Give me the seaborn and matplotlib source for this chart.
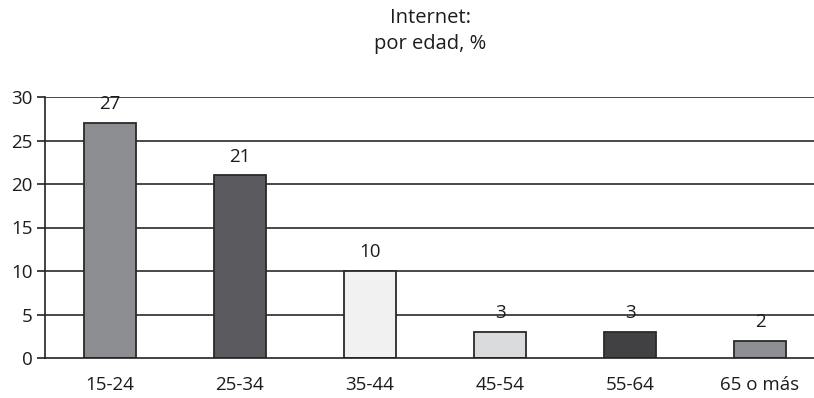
import matplotlib
matplotlib.use("Agg")
import matplotlib.pyplot as plt
import seaborn as sns
import pandas as pd
import numpy as np

categories = ["15-24", "25-34", "35-44", "45-54", "55-64", "65 o más"]
values = [27, 21, 10, 3, 3, 2]
colors = ["#8c8d91", "#5b5b5f", "#f1f1f2", "#dadbdd", "#414143", "#8e8f93"]
yticks = [0, 5, 10, 15, 20, 25, 30]
title = "Internet:\npor edad, %"

sns.set_theme(style="white")
plt.rcParams["font.family"] = ["Open Sans", "DejaVu Sans"]

W, H = 814, 398
fig = plt.figure(figsize=(W / 100, H / 100), dpi=100)
left, right, top, bottom = 45, 825, 97, 358
ax = fig.add_axes([left / W, 1 - bottom / H, (right - left) / W, (bottom - top) / H])

df = pd.DataFrame({"cat": categories, "val": values})
sns.barplot(data=df, x="cat", y="val", hue="cat", palette=colors, legend=False,
            width=0.4, edgecolor="#2a2a2a", linewidth=1.3, ax=ax, zorder=3, saturation=1)

txt = "#1c1c1c"
ax.set_ylim(0, 30)
ax.set_xlim(-0.5, len(categories) - 0.5)
ax.set_yticks(yticks)
ax.set_yticklabels([str(t) for t in yticks], fontsize=13.5, color=txt)
ax.set_xticks(range(len(categories)))
ax.set_xticklabels(categories, fontsize=13.5, color=txt)
ax.set_xticks(np.arange(-0.5, len(categories) + 0.5, 1), minor=True)
ax.tick_params(axis="x", which="major", length=0, pad=13)
ax.tick_params(axis="x", which="minor", length=6, width=1.2, color="#222222", direction="out")
ax.tick_params(axis="y", length=6, width=1.2, color="#222222", direction="out", pad=3, left=True)
ax.set_xlabel("")
ax.set_ylabel("")

for t in yticks[1:]:
    ax.axhline(t, color="#2a2a2a", linewidth=1.2, zorder=1)

for s in ["top", "right"]:
    ax.spines[s].set_visible(False)
for s in ["left", "bottom"]:
    ax.spines[s].set_color("#222222")
    ax.spines[s].set_linewidth(1.2)
    ax.spines[s].set_zorder(4)

for i, v in enumerate(values):
    ax.annotate(str(v), (i, v), xytext=(0, 7), textcoords="offset points",
                ha="center", va="bottom", fontsize=13.5, color=txt, zorder=5)

fig.text(430 / W, 1 - 31 / H, title, ha="center", va="center", fontsize=14.5,
         color=txt, linespacing=1.45)

fig.savefig("out.png", dpi=100, facecolor="white")
